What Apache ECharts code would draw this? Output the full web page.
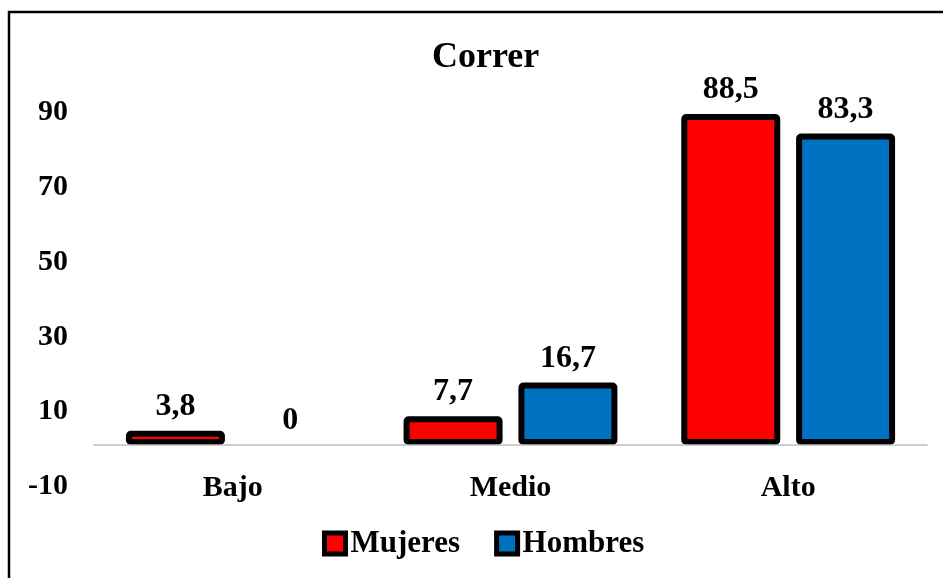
<!DOCTYPE html>
<html>
<head>
<meta charset="utf-8">
<style>html,body{margin:0;padding:0;background:#fff}#c{width:943px;height:578px}</style>
<script src="https://cdn.jsdelivr.net/npm/echarts@6/dist/echarts.min.js"></script>
</head>
<body>
<div id="c"></div>
<script>
var categories = ['Bajo', 'Medio', 'Alto'];
var mujeres = [3.8, 7.7, 88.5];
var hombres = [0, 16.7, 83.3];
var seriesNames = ['Mujeres', 'Hombres'];
var titleText = 'Correr';

var FONT = '"Liberation Serif", "Times New Roman", serif';
var chart = echarts.init(document.getElementById('c'));

function items(arr) {
  return arr.map(function (v) {
    return v === 0 ? { value: v, itemStyle: { borderWidth: 0 } } : v;
  });
}
function fmt(p) { return String(p.value).replace('.', ','); }

var labelStyle = {
  show: true, position: 'top', distance: 8, formatter: fmt,
  fontFamily: FONT, fontWeight: 'bold', fontSize: 32, color: '#000'
};

chart.setOption({
  animation: false,
  title: {
    text: titleText, left: 427, top: 35,
    textStyle: { fontFamily: FONT, fontWeight: 'bold', fontSize: 36, color: '#000' }
  },
  graphic: [{
    type: 'rect', shape: { x: 9, y: 12, width: 945, height: 580 },
    style: { fill: 'none', stroke: '#000', lineWidth: 2.5 }, silent: true
  }],
  legend: {
    data: seriesNames, left: 317, top: 523, icon: 'rect',
    itemWidth: 21, itemHeight: 21, itemGap: 34,
    itemStyle: { borderColor: '#000', borderWidth: 5 },
    textStyle: { fontFamily: FONT, fontWeight: 'bold', fontSize: 31, color: '#000' }
  },
  grid: { left: 94, right: 16, top: 33.6, bottom: 95.6, containLabel: false },
  xAxis: {
    type: 'category', data: categories, z: 5,
    axisLine: { show: true, lineStyle: { color: '#bfbfbf', width: 1.5 } },
    axisTick: { show: false },
    axisLabel: { margin: 6, verticalAlign: 'middle', fontFamily: FONT, fontWeight: 'bold', fontSize: 30, color: '#000' }
  },
  yAxis: {
    type: 'value', min: -10, max: 110, interval: 20,
    axisLine: { show: false }, axisTick: { show: false }, splitLine: { show: false },
    axisLabel: { showMaxLabel: false, margin: 26, verticalAlign: 'top', lineHeight: 8, fontFamily: FONT, fontWeight: 'bold', fontSize: 30, color: '#000' }
  },
  series: [
    {
      name: seriesNames[0], type: 'bar', data: items(mujeres), barWidth: 99, barGap: '16%',
      itemStyle: { color: '#ff0000', borderColor: '#000', borderWidth: 6, borderRadius: 2 },
      label: labelStyle
    },
    {
      name: seriesNames[1], type: 'bar', data: items(hombres), barWidth: 99, barGap: '16%',
      itemStyle: { color: '#0070c0', borderColor: '#000', borderWidth: 6, borderRadius: 2 },
      label: labelStyle
    }
  ]
});
</script>
</body>
</html>
